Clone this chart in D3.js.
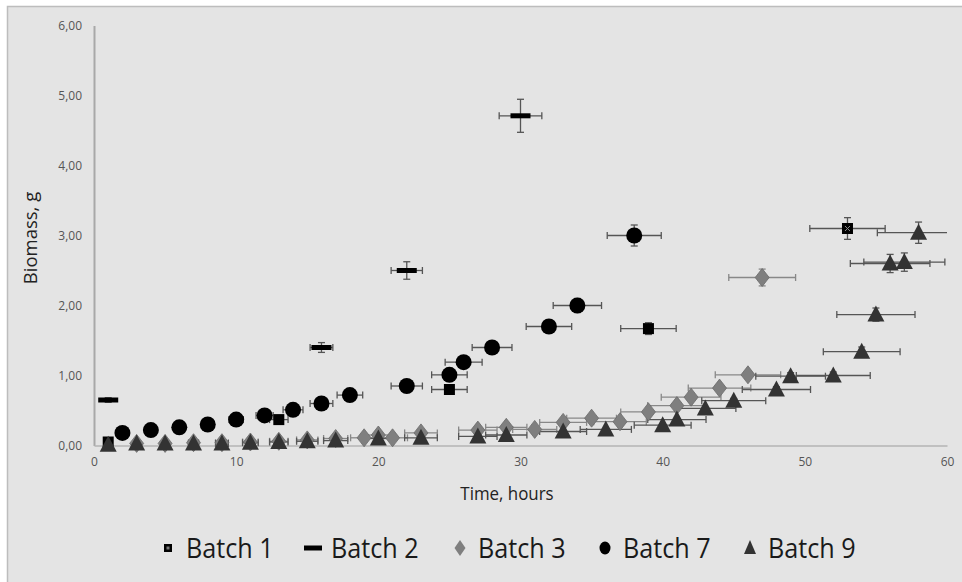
<!DOCTYPE html>
<html><head><meta charset="utf-8">
<script src="https://cdn.jsdelivr.net/npm/d3@7"></script>
<style>body{margin:0;background:#fff;}svg{display:block;font-family:"Open Sans",sans-serif;}</style>
</head><body><svg id="c" width="962" height="582"></svg>
<script>
// ---- data ----
const yTicks = [0,1,2,3,4,5,6];
const xTicks = [0,10,20,30,40,50,60];

const b1x = [1,13,25,39,53];
const b1y = [0.05,0.37,0.80,1.67,3.10];
const b1ex = [0.05,0.65,1.25,1.95,2.65];
const b1ey = [0.003,0.019,0.04,0.084,0.155];

const b2x = [1,16,22,30];
const b2y = [0.65,1.40,2.50,4.71];
const b2ex = [0.05,0.8,1.1,1.5];
const b2ey = [0.033,0.07,0.125,0.236];

const b3x = [3,5,7,9,11,13,15,17,19,20,21,23,27,29,31,33,35,37,39,41,42,44,46,47];
const b3y = [0.03,0.03,0.04,0.04,0.05,0.06,0.08,0.10,0.11,0.15,0.11,0.18,0.22,0.26,0.23,0.33,0.39,0.34,0.48,0.57,0.69,0.82,1.01,2.40];
const b3ex = [0.15,0.25,0.35,0.45,0.55,0.65,0.75,0.85,0.95,1.0,1.05,1.15,1.35,1.45,1.55,1.65,1.75,1.85,1.95,2.05,2.1,2.2,2.3,2.35];
const b3ey = [0.002,0.002,0.002,0.002,0.003,0.003,0.004,0.005,0.006,0.008,0.006,0.009,0.011,0.013,0.012,0.017,0.02,0.017,0.024,0.029,0.035,0.041,0.051,0.12];

const b7x = [2,4,6,8,10,12,14,16,18,22,25,26,28,32,34,38];
const b7y = [0.18,0.22,0.26,0.30,0.37,0.43,0.51,0.60,0.72,0.85,1.01,1.19,1.40,1.70,2.00,3.00];
const b7ex = [0.1,0.2,0.3,0.4,0.5,0.6,0.7,0.8,0.9,1.1,1.25,1.3,1.4,1.6,1.7,1.9];
const b7ey = [0.009,0.011,0.013,0.015,0.019,0.022,0.026,0.03,0.036,0.043,0.05,0.06,0.07,0.085,0.1,0.15];

const b9x = [1,3,5,7,9,11,13,15,17,20,23,27,29,33,36,40,41,43,45,48,49,52,54,55,56,57,58];
const b9y = [0.01,0.03,0.03,0.03,0.03,0.04,0.05,0.06,0.07,0.10,0.11,0.13,0.15,0.20,0.23,0.29,0.37,0.53,0.64,0.80,0.99,1.00,1.34,1.87,2.60,2.62,3.04];
const b9ex = [0.05,0.15,0.25,0.35,0.45,0.55,0.65,0.75,0.85,1.0,1.15,1.35,1.45,1.65,1.8,2.0,2.05,2.15,2.25,2.4,2.45,2.6,2.7,2.75,2.8,2.85,2.9];
const b9ey = [0.001,0.002,0.002,0.002,0.002,0.002,0.003,0.003,0.004,0.005,0.006,0.007,0.008,0.01,0.012,0.015,0.019,0.027,0.032,0.04,0.05,0.05,0.067,0.094,0.13,0.131,0.152];

const seriesNames = ["Batch 1","Batch 2","Batch 3","Batch 7","Batch 9"];

// ---- build ----
const zip = (xs,ys,ex,ey)=>xs.map((x,i)=>({x,y:ys[i],ex:ex[i],ey:ey[i]}));
const series = [
  {name:"Batch 1", pts:zip(b1x,b1y,b1ex,b1ey), shape:"square", fill:"#000", err:"#555"},
  {name:"Batch 2", pts:zip(b2x,b2y,b2ex,b2ey), shape:"dash", fill:"#000", err:"#555"},
  {name:"Batch 3", pts:zip(b3x,b3y,b3ex,b3ey), shape:"diamond", fill:"#7f7f7f", err:"#888"},
  {name:"Batch 7", pts:zip(b7x,b7y,b7ex,b7ey), shape:"circle", fill:"#000", err:"#555"},
  {name:"Batch 9", pts:zip(b9x,b9y,b9ex,b9ey), shape:"triangle", fill:"#333", err:"#555"}
];

const svg = d3.select("#c");
svg.append("rect").attr("x",7.5).attr("y",6.5).attr("width",970).attr("height",590)
  .attr("fill","#e4e4e4").attr("stroke","#bdbdbd").attr("stroke-width",1.5);

const x = d3.scaleLinear().domain([0,60]).range([94,947]);
const y = d3.scaleLinear().domain([0,6]).range([445.5,25.5]);

svg.append("defs").append("clipPath").attr("id","plot").append("rect")
  .attr("x",94).attr("y",0).attr("width",853).attr("height",460);

// axes
const yAx = svg.append("g").attr("transform","translate(94,0)")
  .call(d3.axisLeft(y).tickValues(yTicks).tickSize(0).tickPadding(12)
    .tickFormat(d=>d3.format(".2f")(d).replace(".",",")));
yAx.select(".domain").attr("stroke","#a8a8a8").attr("stroke-width",2);
yAx.selectAll("text").attr("fill","#555").attr("font-size",12).attr("font-family","Open Sans");

const xAx = svg.append("g").attr("transform","translate(0,445.5)")
  .call(d3.axisBottom(x).tickValues(xTicks).tickSize(0).tickPadding(12));
xAx.select(".domain").attr("stroke","#b4b4b4").attr("stroke-width",1.5);
xAx.selectAll("text").attr("fill","#555").attr("font-size",12).attr("font-family","Open Sans");

svg.append("text").attr("x",507).attr("y",500).attr("text-anchor","middle")
  .attr("font-size",18).attr("fill","#222").attr("transform","translate(507,0) scale(0.94,1) translate(-507,0)").text("Time, hours");
svg.append("text").attr("transform","translate(37,238) rotate(-90)").attr("text-anchor","middle")
  .attr("font-size",18.5).attr("fill","#222").text("Biomass, g");

// shapes
function drawShape(g, shape, fill, s){
  if(shape==="square") g.append("rect").attr("x",-5.5*s).attr("y",-5.5*s).attr("width",11*s).attr("height",11*s).attr("fill",fill);
  else if(shape==="dash") g.append("rect").attr("x",-10*s).attr("y",-2.5*s).attr("width",20*s).attr("height",5*s).attr("fill",fill);
  else if(shape==="diamond") g.append("path").attr("d",`M0,${-9*s}L${7*s},0L0,${9*s}L${-7*s},0Z`).attr("fill",fill).attr("stroke","#6a6a6a").attr("stroke-width",0.8);
  else if(shape==="circle") g.append("circle").attr("r",8*s).attr("fill",fill);
  else if(shape==="triangle") g.append("path").attr("d",`M0,${-9*s}L${8.5*s},${7*s}L${-8.5*s},${7*s}Z`).attr("fill",fill);
}

const plot = svg.append("g").attr("clip-path","url(#plot)");
const cap = 3.5;
series.forEach(se=>{
  const eg = plot.append("g").attr("stroke",se.err).attr("stroke-width",1.3).attr("fill","none");
  se.pts.forEach(p=>{
    const cx=x(p.x), cy=y(p.y), x0=x(p.x-p.ex), x1=x(p.x+p.ex), y0=y(p.y-p.ey), y1=y(p.y+p.ey);
    if(x1-x0>4){
      eg.append("line").attr("x1",x0).attr("x2",x1).attr("y1",cy).attr("y2",cy);
      eg.append("line").attr("x1",x0).attr("x2",x0).attr("y1",cy-cap).attr("y2",cy+cap);
      eg.append("line").attr("x1",x1).attr("x2",x1).attr("y1",cy-cap).attr("y2",cy+cap);
    }
    if(y0-y1>4){
      eg.append("line").attr("x1",cx).attr("x2",cx).attr("y1",y0).attr("y2",y1);
      eg.append("line").attr("x1",cx-cap).attr("x2",cx+cap).attr("y1",y0).attr("y2",y0);
      eg.append("line").attr("x1",cx-cap).attr("x2",cx+cap).attr("y1",y1).attr("y2",y1);
    }
  });
});
series.forEach(se=>{
  const mg = svg.append("g");
  se.pts.forEach(p=>{
    const g = mg.append("g").attr("transform",`translate(${x(p.x)},${y(p.y)})`);
    drawShape(g, se.shape, se.fill, 1);
    if(se.shape==="square" && p.x===53){
      g.append("path").attr("d","M-2.5,-2.5L2.5,2.5M2.5,-2.5L-2.5,2.5").attr("stroke","#888").attr("stroke-width",1);
    }
  });
});

// legend
const legX = [168,313,460,605,750];
const leg = svg.append("g");
series.forEach((se,i)=>{
  const g = leg.append("g").attr("transform",`translate(${legX[i]},548)`);
  if(se.shape==="square"){ g.append("rect").attr("x",-4).attr("y",-4).attr("width",8).attr("height",8).attr("fill","#000");
    g.append("rect").attr("x",-1.5).attr("y",-1.5).attr("width",3).attr("height",3).attr("fill","#777"); }
  else if(se.shape==="dash") g.append("rect").attr("x",-9).attr("y",-2.5).attr("width",18).attr("height",5).attr("fill","#000");
  else if(se.shape==="diamond") g.append("path").attr("d","M0,-8L5.5,0L0,8L-5.5,0Z").attr("fill","#7f7f7f");
  else if(se.shape==="circle") g.append("ellipse").attr("rx",5.5).attr("ry",6.5).attr("fill","#000");
  else g.append("path").attr("d","M0,-8L6,6L-6,6Z").attr("fill","#333");
  g.append("text").attr("x",18).attr("y",10).attr("font-size",28).attr("fill","#1a1a1a")
    .attr("transform","translate(18,0) scale(0.9,1) translate(-18,0)").text(seriesNames[i]);
});
</script></body></html>
